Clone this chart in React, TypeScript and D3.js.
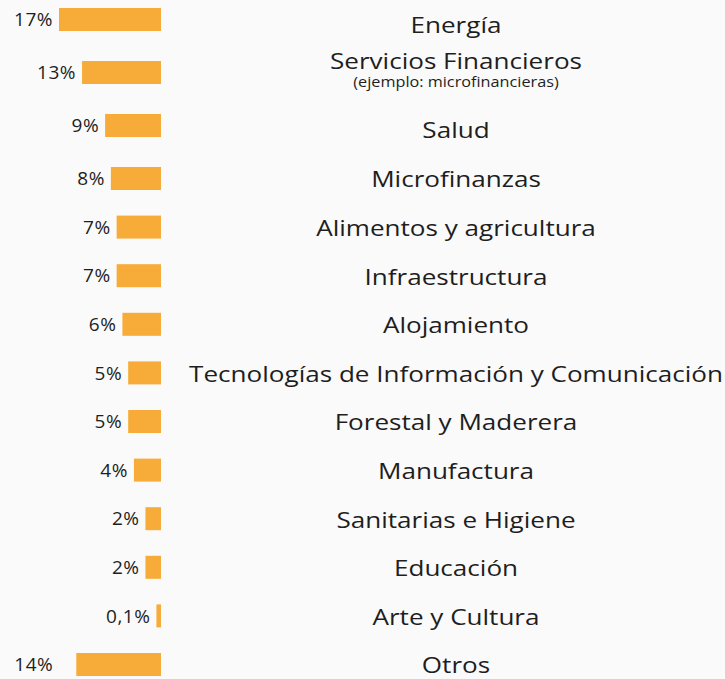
import React from "react";
import * as d3 from "d3";

const categories = [
  "Energía",
  "Servicios Financieros",
  "Salud",
  "Microfinanzas",
  "Alimentos y agricultura",
  "Infraestructura",
  "Alojamiento",
  "Tecnologías de Información y Comunicación",
  "Forestal y Maderera",
  "Manufactura",
  "Sanitarias e Higiene",
  "Educación",
  "Arte y Cultura",
  "Otros",
];
const subtitles = ["", "(ejemplo: microfinancieras)", "", "", "", "", "", "", "", "", "", "", "", ""];
const values = [17, 13, 9, 8, 7, 7, 6, 5, 5, 4, 2, 2, 0.1, 14];
const valueLabels = ["17%", "13%", "9%", "8%", "7%", "7%", "6%", "5%", "5%", "4%", "2%", "2%", "0,1%", "14%"];

const W = 725;
const H = 679;
const BAR_RIGHT = 161;
const BAR_H = 23;
const COLOR = "#F7AB38";
const TEXT = "#1e1e1e";
const FONT = "'Open Sans', sans-serif";
const LABEL_X = 456;

export default function App() {
  const n = categories.length;
  // row layout: the first rows are spaced a bit more loosely than the rest
  const rowY = d3.scaleLinear().domain([0, 3, n - 1]).range([19.5, 178.5, 664.5]);
  // baselines of the category texts (their own column layout)
  const labelY = d3.scaleLinear().domain([0, 2, 4, n - 1]).range([32.7, 138.3, 236, 673.3]);
  const w = d3.scaleLinear().domain([0, 17]).range([4, 102]);
  return (
    <svg
      width={W}
      height={H}
      style={{ position: "fixed", left: 0, top: 0, background: "#fafafa" }}
      fontFamily={FONT}
    >
      <rect x={0} y={0} width={W} height={H} fill="#fafafa" />
      {categories.map((c, i) => {
        const cy = rowY(i);
        const bw = w(values[i]);
        const hasSub = subtitles[i] !== "";
        const by = labelY(i);
        const gap = c === "Otros" ? 23 : 6;
        return (
          <g key={c}>
            <rect x={BAR_RIGHT - bw} y={cy - BAR_H / 2} width={bw} height={BAR_H} fill={COLOR} />
            <text
              x={BAR_RIGHT - bw - gap}
              y={cy}
              dy="0.35em"
              textAnchor="end"
              fontSize={19}
              letterSpacing={0.5}
              fill={TEXT}
            >
              {valueLabels[i]}
            </text>
            <text
              transform={`translate(${LABEL_X},${hasSub ? by - 16.5 : by}) scale(1.185,1)`}
              textAnchor="middle"
              fontSize={22}
              fill={TEXT}
            >
              {c}
            </text>
            {hasSub && (
              <text
                transform={`translate(${LABEL_X},${by + 1}) scale(1.16,1)`}
                textAnchor="middle"
                fontSize={14}
                fill={TEXT}
              >
                {subtitles[i]}
              </text>
            )}
          </g>
        );
      })}
    </svg>
  );
}
